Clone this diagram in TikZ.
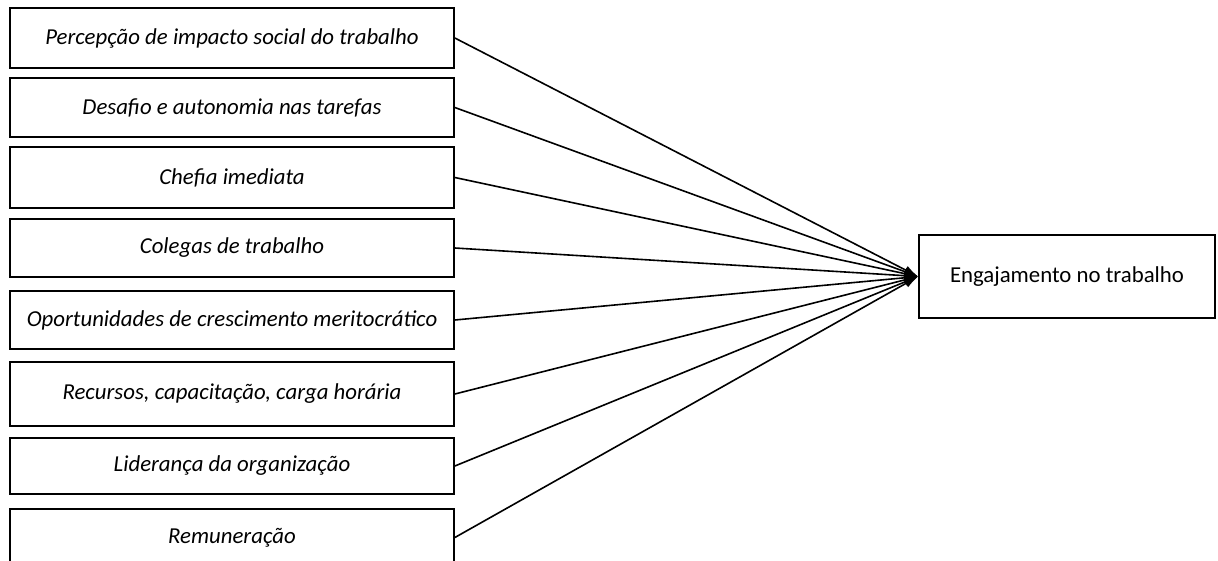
\documentclass[tikz,border=0pt]{standalone}
\usepackage{fontspec}
\setmainfont{Carlito}
\usetikzlibrary{arrows.meta}
\begin{document}
\begin{tikzpicture}[x=1pt,y=-1pt,
  factor/.style={draw,line width=1.7pt,minimum width=444pt,minimum height=58pt,
    inner sep=0pt,font=\fontsize{22.8}{26}\selectfont\itshape},
  outcome/.style={draw,line width=1.7pt,minimum width=296pt,minimum height=83pt,
    inner sep=0pt,font=\fontsize{22.8}{26}\selectfont},
  link/.style={line width=1.6pt,-{Latex[length=14pt,width=9pt]}}]
\useasboundingbox (0,0) rectangle (1218,560);
\fill[white] (0,0) rectangle (1218,560);
% factor boxes on the left
\node[factor,minimum height=60pt] (f1) at (232,38) {Percepção de impacto social do trabalho};
\node[factor,minimum height=59pt] (f2) at (232,107.5) {Desafio e autonomia nas tarefas};
\node[factor,minimum height=61pt] (f3) at (232,177.5) {Chefia imediata};
\node[factor] (f4) at (232,248) {Colegas de trabalho};
\node[factor] (f5) at (232,320) {Oportunidades de crescimento meritocrático};
\node[factor,minimum height=64pt] (f6) at (232,394) {Recursos, capacitação, carga horária};
\node[factor,minimum height=56pt] (f7) at (232,466) {Liderança da organização};
\node[factor,minimum height=57pt] (f8) at (232,537.5) {Remuneração};
% outcome box on the right
\node[outcome] (eng) at (1067,276.5) {Engajamento no trabalho};
% arrows from each factor to the outcome
\foreach \i in {1,...,8}
  \draw[link] (f\i.east) -- (eng.west);
\end{tikzpicture}
\end{document}
